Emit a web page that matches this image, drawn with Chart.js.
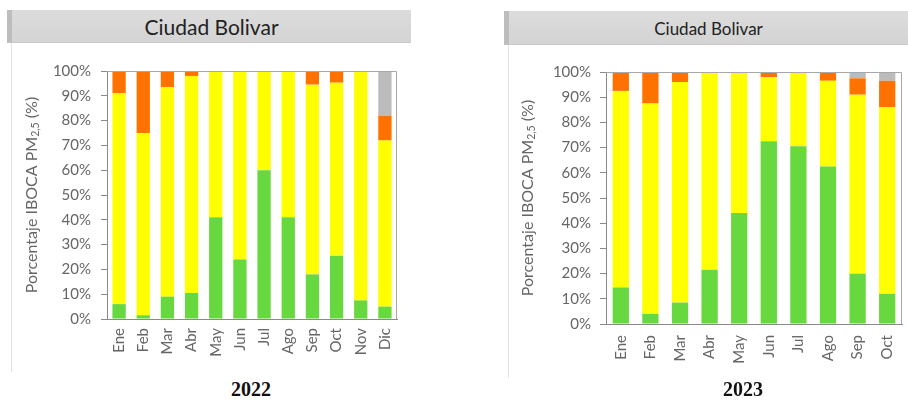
<!DOCTYPE html>
<html>
<head>
<meta charset="utf-8">
<script src="https://cdn.jsdelivr.net/npm/chart.js@4.4.1/dist/chart.umd.min.js"></script>
<style>
  body { margin: 0; background: #fff; width: 908px; height: 401px; position: relative; overflow: hidden; font-family: Lato, sans-serif; }
  .panel { position: absolute; border-left: 1px solid #e2e2e2; }
  .head { position: absolute; background: linear-gradient(#dcdcdc, #d4d4d4); border-left: 5px solid #bdbdbd; border-bottom: 1px solid #c8c8c8; color: #222; text-align: center; box-sizing: border-box; }
  .cap { position: absolute; font-family: "Liberation Serif", serif; font-weight: bold; font-size: 20px; color: #111; width: 100px; text-align: center; }
  canvas { position: absolute; }
</style>
</head>
<body>
<div class="panel" style="left:11px; top:43px; height:329px;"></div>
<div class="panel" style="left:508px; top:45px; height:333px;"></div>
<div class="head" style="left:7px; top:10px; width:404px; height:33px; font-size:21px; line-height:33px;">Ciudad Bolivar</div>
<div class="head" style="left:504px; top:11px; width:404px; height:34px; font-size:17px; line-height:36px;">Ciudad Bolivar</div>
<div style="position:absolute; left:0; top:60px; width:412px; height:312px;"><canvas id="chart2022"></canvas></div>
<div style="position:absolute; left:498px; top:60px; width:410px; height:320px;"><canvas id="chart2023"></canvas></div>
<div class="cap" style="left:201px; top:378px;">2022</div>
<div class="cap" style="left:693px; top:378px;">2023</div>
<script>
// Datos 2022 (porcentaje de días por categoría IBOCA)
const months2022 = ['Ene', 'Feb', 'Mar', 'Abr', 'May', 'Jun', 'Jul', 'Ago', 'Sep', 'Oct', 'Nov', 'Dic'];
const green2022 = [6, 1.5, 9, 10.5, 41, 24, 60, 41, 18, 25.5, 7.5, 5];
const yellow2022 = [85, 73.5, 84.5, 87.5, 59, 76, 40, 59, 76.5, 69.8, 92.5, 67];
const orange2022 = [9, 25, 6.5, 2, 0, 0, 0, 0, 5.5, 4.7, 0, 10];
const gray2022 = [0, 0, 0, 0, 0, 0, 0, 0, 0, 0, 0, 18];

// Datos 2023
const months2023 = ['Ene', 'Feb', 'Mar', 'Abr', 'May', 'Jun', 'Jul', 'Ago', 'Sep', 'Oct'];
const green2023 = [14.5, 4, 8.5, 21.5, 44, 72.5, 70.5, 62.5, 20, 12];
const yellow2023 = [78, 83.5, 87.5, 78, 56, 25.5, 29.5, 34, 71, 74];
const orange2023 = [7.5, 12.5, 4, 0.5, 0, 2, 0, 3.5, 6.5, 10.5];
const gray2023 = [0, 0, 0, 0, 0, 0, 0, 0, 2.5, 3.5];

const yTicks = [0, 10, 20, 30, 40, 50, 60, 70, 80, 90, 100];

const tickColor = '#666';
const tickFont = { family: 'Lato', size: 15 };

// draws the plot frame (top and right sides)
const framePlugin = {
  id: 'frame',
  afterDraw(chart) {
    const { ctx, chartArea: a } = chart;
    ctx.save();
    ctx.strokeStyle = '#a8a8a8';
    ctx.lineWidth = 1;
    ctx.beginPath();
    ctx.moveTo(a.left, a.top + 0.5);
    ctx.lineTo(a.right - 0.5, a.top + 0.5);
    ctx.lineTo(a.right - 0.5, a.bottom);
    ctx.stroke();
    ctx.restore();
  }
};

// y axis title with subscript "2,5"
const yTitlePlugin = {
  id: 'yTitle',
  afterDraw(chart, args, opts) {
    const { ctx, chartArea: a } = chart;
    const parts = [
      { t: 'Porcentaje IBOCA PM', size: 16, dy: 0 },
      { t: '2,5', size: 10.5, dy: 4 },
      { t: ' (%)', size: 16, dy: 0 }
    ];
    ctx.save();
    let total = 0;
    parts.forEach(p => {
      ctx.font = p.size + 'px Lato';
      p.w = ctx.measureText(p.t).width;
      total += p.w;
    });
    ctx.translate(opts.x, (a.top + a.bottom) / 2);
    ctx.rotate(-Math.PI / 2);
    ctx.fillStyle = tickColor;
    ctx.textBaseline = 'middle';
    let x = -total / 2;
    parts.forEach(p => {
      ctx.font = p.size + 'px Lato';
      ctx.fillText(p.t, x, p.dy);
      x += p.w;
    });
    ctx.restore();
  }
};

function makeChart(id, labels, green, yellow, orange, gray, cfg) {
  const ctx = document.getElementById(id).getContext('2d');
  return new Chart(ctx, {
    type: 'bar',
    data: {
      labels: labels,
      datasets: [
        { label: 'Favorable', data: green, backgroundColor: '#68d83f' },
        { label: 'Moderada', data: yellow, backgroundColor: '#ffff00' },
        { label: 'Regular', data: orange, backgroundColor: '#ff7200' },
        { label: 'Mala', data: gray, backgroundColor: '#bcbcbc' }
      ]
    },
    options: {
      responsive: true,
      maintainAspectRatio: false,
      animation: false,
      datasets: {
        bar: { barPercentage: 0.55, categoryPercentage: 1, borderWidth: 0 }
      },
      layout: {
        padding: { top: cfg.top, right: cfg.right, left: 0, bottom: 0 }
      },
      plugins: {
        legend: { display: false },
        tooltip: { enabled: false },
        yTitle: { x: cfg.titleX }
      },
      scales: {
        x: {
          stacked: true,
          grid: { display: true, drawOnChartArea: false, drawTicks: false },
          border: { display: true, color: '#8a8a8a' },
          ticks: { color: tickColor, font: tickFont, minRotation: 90, maxRotation: 90, padding: cfg.xPad },
          afterFit(scale) {
            scale.height = cfg.xHeight;
            scale.paddingLeft = 0;
            scale.paddingRight = 0;
          }
        },
        y: {
          stacked: true,
          min: 0,
          max: 100,
          afterBuildTicks(scale) { scale.ticks = yTicks.map(v => ({ value: v })); },
          grid: { display: true, drawOnChartArea: false, tickLength: 6, color: '#8a8a8a' },
          border: { display: true, color: '#8a8a8a' },
          ticks: { color: tickColor, font: tickFont, padding: cfg.yPad, callback: v => v + '%' },
          afterFit(scale) {
            scale.width = cfg.yWidth;
            scale.paddingTop = 0;
            scale.paddingBottom = 0;
          }
        }
      }
    },
    plugins: [framePlugin, yTitlePlugin]
  });
}

const chart2022 = makeChart('chart2022', months2022, green2022, yellow2022, orange2022, gray2022,
  { top: 11, right: 15, yWidth: 107, xHeight: 53, titleX: 32, xPad: 9, yPad: 10 });
const chart2023 = makeChart('chart2023', months2023, green2023, yellow2023, orange2023, gray2023,
  { top: 12, right: 6, yWidth: 108, xHeight: 56, titleX: 30, xPad: 11, yPad: 9 });
</script>
</body>
</html>
